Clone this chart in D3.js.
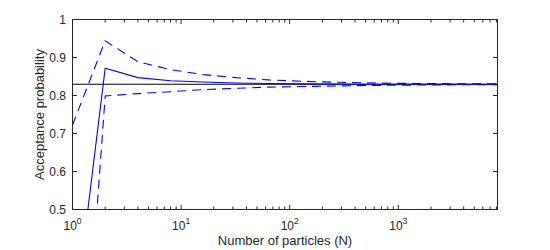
<!DOCTYPE html>
<html>
<head>
<meta charset="utf-8">
<script src="https://cdn.jsdelivr.net/npm/d3@7"></script>
<style>
  html, body { margin: 0; padding: 0; background: #fff; }
  text { font-family: "Liberation Sans", Arial, Helvetica, sans-serif; fill: #262626; }
</style>
</head>
<body>
<svg id="chart" width="550" height="250"></svg>
<script>
// ---- data ----
const particles = [1, 2, 4, 8, 16, 32, 64, 128, 256, 512, 1024, 2048, 4096, 8192];
const meanAcc  = [0.17, 0.8716, 0.847, 0.839, 0.8355, 0.833, 0.8315, 0.8305, 0.830, 0.8298, 0.8297, 0.8296, 0.8296, 0.8296];
const upperAcc = [0.722, 0.944, 0.889, 0.868, 0.855, 0.847, 0.841, 0.8375, 0.835, 0.8333, 0.832, 0.8314, 0.8308, 0.8305];
const lowerAcc = [-0.39, 0.7987, 0.805, 0.810, 0.8155, 0.819, 0.822, 0.8235, 0.825, 0.8263, 0.8272, 0.8278, 0.8284, 0.8287];
const referenceLevel = 0.8295;
const yTicks = [0.5, 0.6, 0.7, 0.8, 0.9, 1];
const xMajorExp = [0, 1, 2, 3];
const xDomain = [1, 8192];
const yDomain = [0.5, 1];
const xLabel = "Number of particles (N)";
const yLabel = "Acceptance probability";

// ---- layout ----
const L = 72.5, R = 497.5, T = 19.5, B = 209.5;
const axisColor = "#262626";
const svg = d3.select("#chart");

const x = d3.scaleLog().domain(xDomain).range([L, R]);
const y = d3.scaleLinear().domain(yDomain).range([B, T]);

svg.append("defs").append("clipPath").attr("id", "clip")
  .append("rect").attr("x", L).attr("y", T).attr("width", R - L).attr("height", B - T);

const plot = svg.append("g").attr("clip-path", "url(#clip)");

// reference line
plot.append("line")
  .attr("x1", x(xDomain[0])).attr("x2", x(xDomain[1]))
  .attr("y1", y(referenceLevel)).attr("y2", y(referenceLevel))
  .attr("stroke", "#000").attr("stroke-width", 1.1);

const pts = arr => particles.map((n, i) => [n, arr[i]]);
const line = d3.line().x(d => x(d[0])).y(d => y(d[1]));

plot.append("path").datum(pts(upperAcc)).attr("d", line)
  .attr("fill", "none").attr("stroke", "#0000ff").attr("stroke-width", 1.1)
  .attr("stroke-dasharray", "9,6");
plot.append("path").datum(pts(lowerAcc)).attr("d", line)
  .attr("fill", "none").attr("stroke", "#0000ff").attr("stroke-width", 1.1)
  .attr("stroke-dasharray", "9,6");
plot.append("path").datum(pts(meanAcc)).attr("d", line)
  .attr("fill", "none").attr("stroke", "#0000ff").attr("stroke-width", 1.1);

// ---- axes ----
const axes = svg.append("g");
axes.append("rect").attr("x", L).attr("y", T).attr("width", R - L).attr("height", B - T)
  .attr("fill", "none").attr("stroke", axisColor).attr("stroke-width", 1);

// x ticks (major + minor), top and bottom, inward
const xTickVals = [];
for (let e = 0; e <= 3; e++) {
  for (let m = 1; m <= 9; m++) {
    const v = m * Math.pow(10, e);
    if (v <= xDomain[1]) xTickVals.push({ v, major: m === 1 });
  }
}
xTickVals.forEach(t => {
  const xx = x(t.v);
  const len = t.major ? 4.5 : 3;
  axes.append("line").attr("x1", xx).attr("x2", xx).attr("y1", B).attr("y2", B - len)
    .attr("stroke", axisColor).attr("stroke-width", 1);
  axes.append("line").attr("x1", xx).attr("x2", xx).attr("y1", T).attr("y2", T + len)
    .attr("stroke", axisColor).attr("stroke-width", 1);
});

// x tick labels with superscripts
xMajorExp.forEach(e => {
  const t = axes.append("text")
    .attr("x", x(Math.pow(10, e)))
    .attr("y", 230)
    .attr("text-anchor", "middle")
    .attr("font-size", 12);
  t.append("tspan").text("10");
  t.append("tspan").attr("dy", -6).attr("font-size", 8.5).text(String(e));
});

// y ticks both sides
yTicks.forEach(v => {
  const yy = y(v);
  axes.append("line").attr("x1", L).attr("x2", L + 4.5).attr("y1", yy).attr("y2", yy)
    .attr("stroke", axisColor).attr("stroke-width", 1);
  axes.append("line").attr("x1", R).attr("x2", R - 4.5).attr("y1", yy).attr("y2", yy)
    .attr("stroke", axisColor).attr("stroke-width", 1);
  axes.append("text").attr("x", 66).attr("y", yy).attr("dy", "0.35em")
    .attr("text-anchor", "end").attr("font-size", 12)
    .text(d3.format("")(v));
});

// axis labels
svg.append("text").attr("x", (L + R) / 2).attr("y", 244.5)
  .attr("text-anchor", "middle").attr("font-size", 13).text(xLabel);
svg.append("text")
  .attr("transform", `translate(44,${(T + B) / 2}) rotate(-90)`)
  .attr("text-anchor", "middle").attr("font-size", 13).text(yLabel);
</script>
</body>
</html>
